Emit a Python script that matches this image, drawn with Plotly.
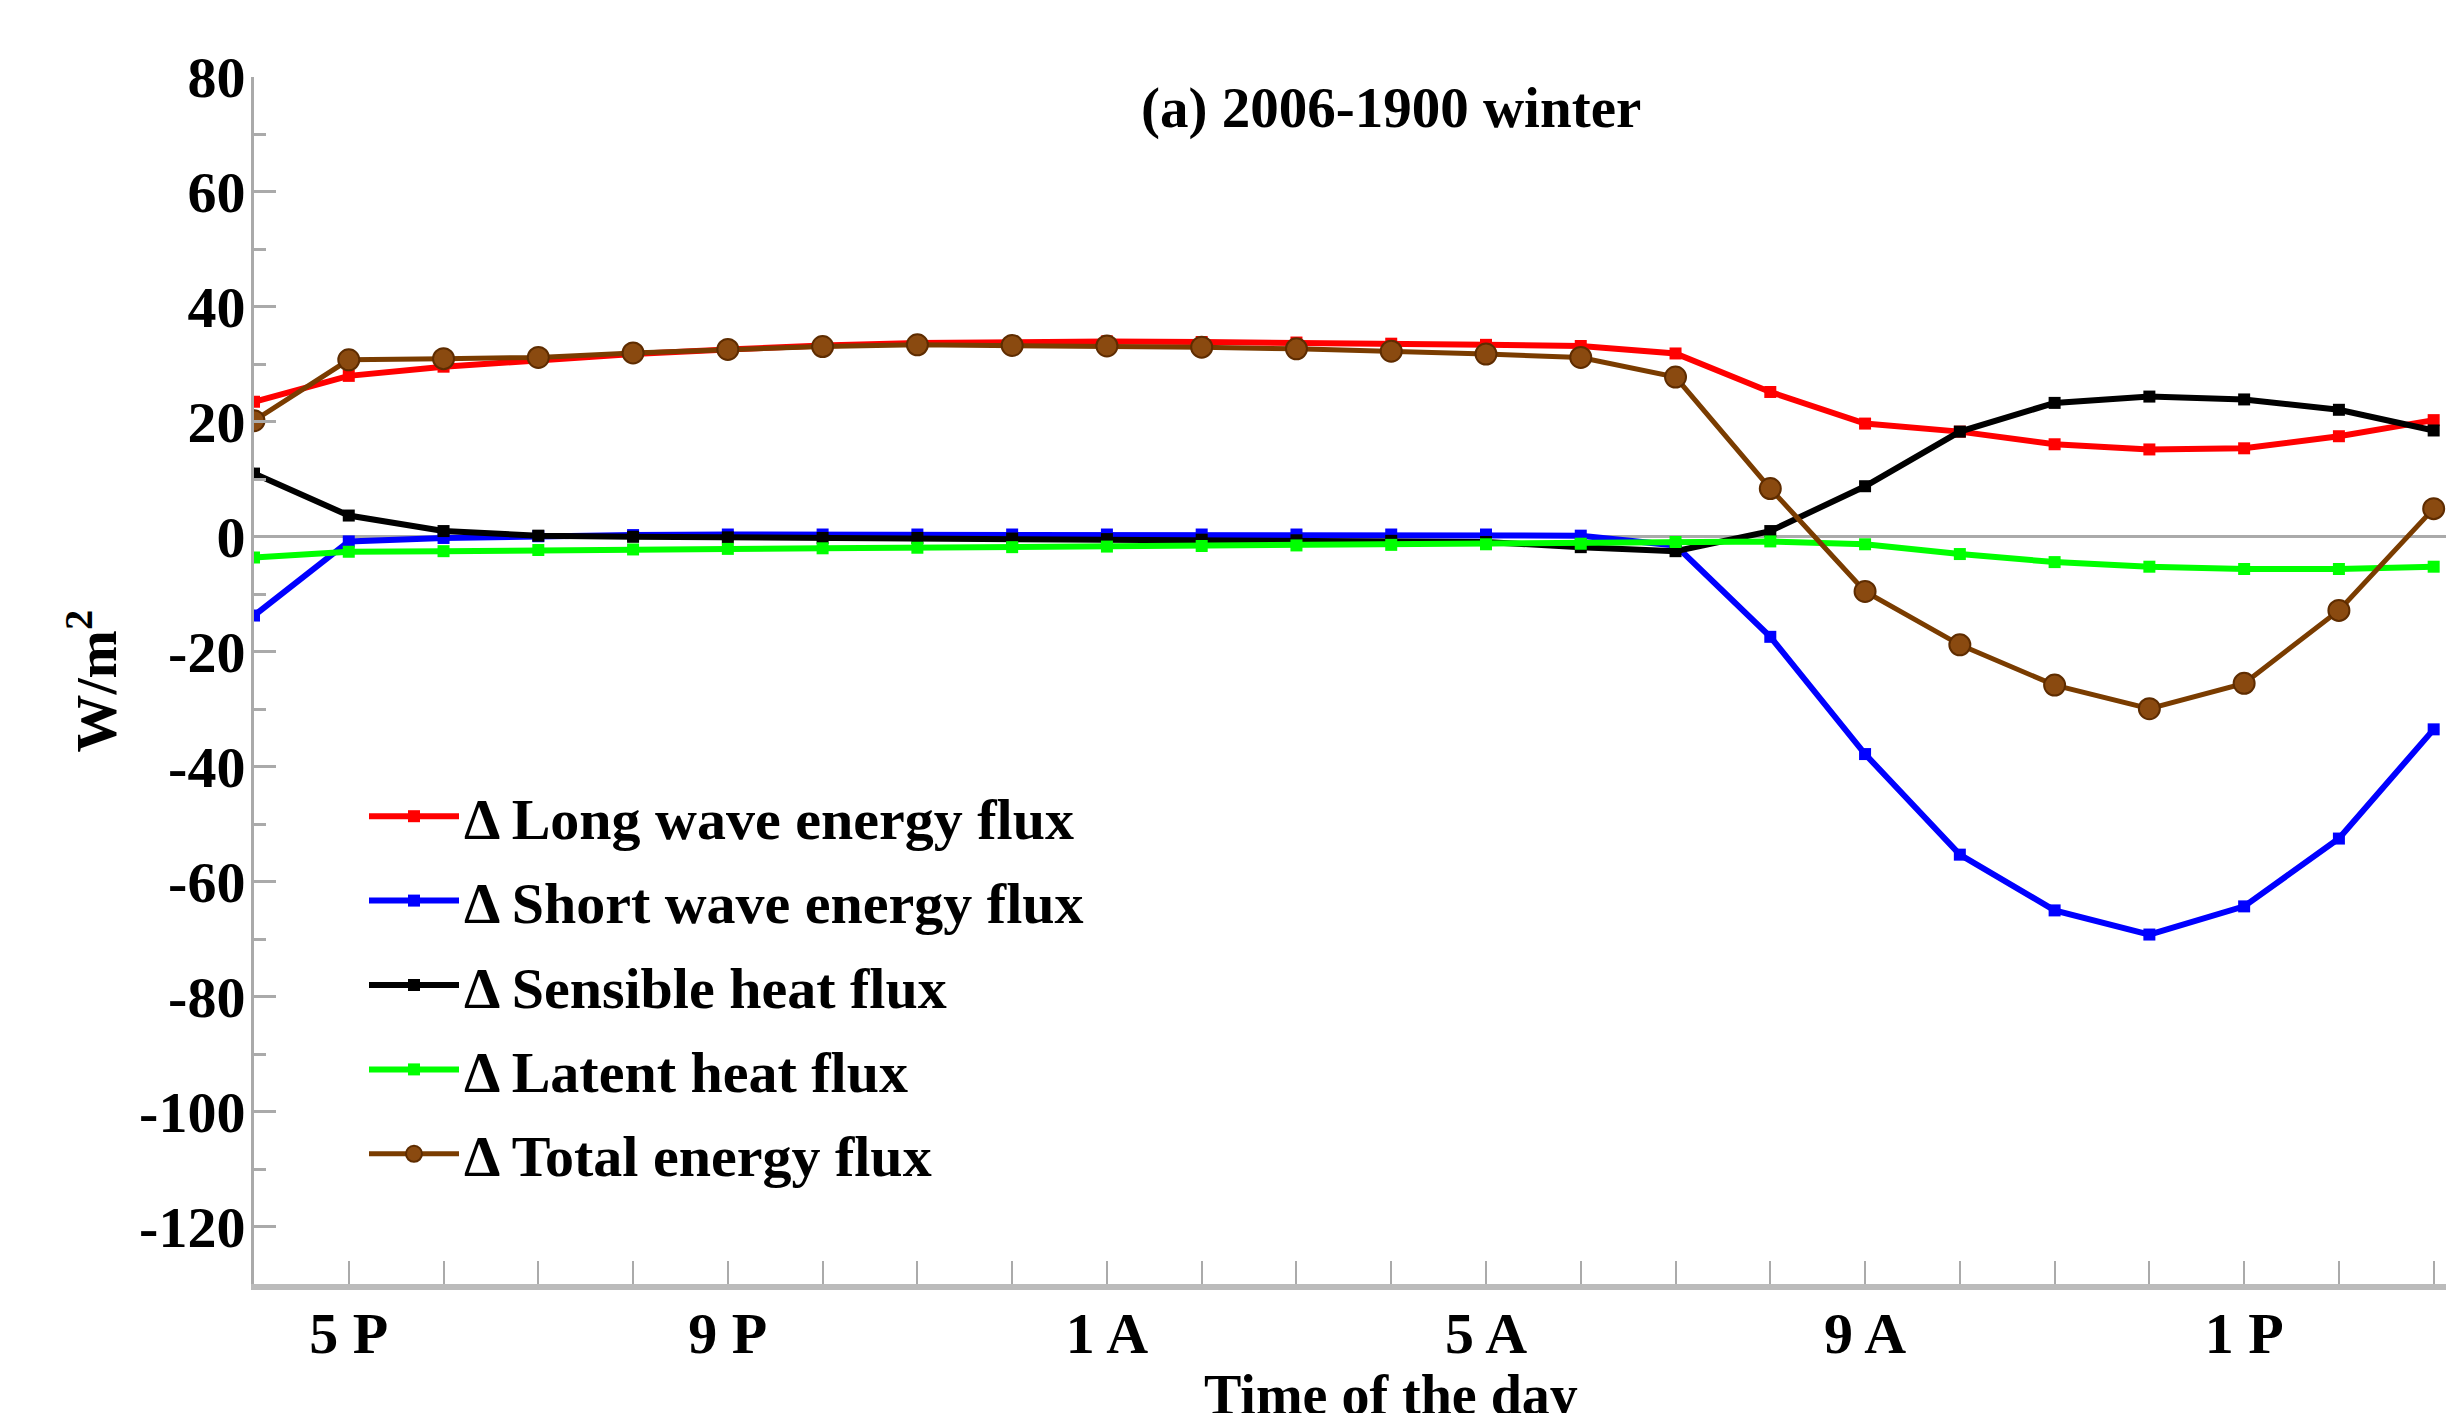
import plotly.graph_objects as go

# hour of day (16 = 4 PM, continuing past midnight up to 39 = 3 PM next day)
hours = list(range(16, 40))
tick_hours = [17, 21, 25, 29, 33, 37]
tick_labels = ["5 P", "9 P", "1 A", "5 A", "9 A", "1 P"]
y_ticks = [-120, -100, -80, -60, -40, -20, 0, 20, 40, 60, 80]

long_wave = [23.5, 28.0, 29.6, 30.8, 31.8, 32.6, 33.3, 33.7, 33.9, 34.0, 33.9, 33.8,
             33.6, 33.4, 33.2, 31.9, 25.2, 19.7, 18.3, 16.1, 15.2, 15.4, 17.5, 20.3]
short_wave = [-13.7, -0.8, -0.2, 0.1, 0.3, 0.4, 0.4, 0.4, 0.4, 0.4, 0.4, 0.4,
              0.4, 0.4, 0.2, -1.5, -17.4, -37.8, -55.3, -65.0, -69.2, -64.3, -52.5, -33.5]
sensible = [11.0, 3.7, 1.0, 0.2, 0.0, -0.1, -0.2, -0.2, -0.3, -0.4, -0.5, -0.6,
            -0.7, -0.9, -1.8, -2.5, 1.0, 8.8, 18.3, 23.3, 24.4, 23.9, 22.1, 18.5]
latent = [-3.6, -2.6, -2.5, -2.3, -2.2, -2.1, -2.0, -1.9, -1.8, -1.7, -1.6, -1.5,
          -1.4, -1.3, -1.2, -0.9, -0.8, -1.3, -3.0, -4.4, -5.2, -5.6, -5.6, -5.2]
total = [20.2, 30.8, 31.0, 31.2, 32.0, 32.6, 33.1, 33.4, 33.3, 33.2, 33.0, 32.7,
         32.3, 31.8, 31.2, 27.8, 8.4, -9.5, -18.8, -25.8, -29.9, -25.5, -12.8, 4.9]

series_names = ["Δ Long wave energy flux", "Δ Short wave energy flux",
                "Δ Sensible heat flux", "Δ Latent heat flux", "Δ Total energy flux"]

FONT = "Liberation Serif, Times New Roman, serif"
AX = "#aaaaaa"

fig = go.Figure()
specs = [
    (long_wave, "#ff0000"),
    (short_wave, "#0000ff"),
    (sensible, "#000000"),
    (latent, "#00ff00"),
]
for i, (vals, col) in enumerate(specs):
    fig.add_trace(go.Scatter(
        x=hours, y=vals, mode="lines+markers", name=series_names[i],
        legendgroup=str(i),
        line=dict(color=col, width=6),
        marker=dict(symbol="square", size=12, color=col),
    ))
fig.add_trace(go.Scatter(
    x=hours, y=total, mode="lines+markers", name=series_names[4],
    legendgroup="4",
    line=dict(color="#7a3c00", width=5),
    marker=dict(symbol="circle", size=21, color="#8a4a10",
                line=dict(color="#5e2c00", width=2)),
))

fig.update_layout(
    template="none",
    width=2446, height=1413,
    margin=dict(l=254, r=0, t=77, b=129, autoexpand=False),
    paper_bgcolor="white", plot_bgcolor="white",
    font=dict(family=FONT, size=58, color="black", weight="bold"),
    showlegend=True,
    legend=dict(
        x=(364 - 254) / 2192, y=(1284 - 772) / 1207,
        xanchor="left", yanchor="top",
        bgcolor="rgba(0,0,0,0)", borderwidth=0,
        font=dict(family=FONT, size=58, color="black", weight="bold"),
        itemwidth=90, tracegroupgap=6,
    ),
    xaxis=dict(
        range=[16, 39.13], automargin=False,
        tickmode="array", tickvals=tick_hours, ticktext=tick_labels,
        ticks="inside", ticklen=23, tickwidth=2, tickcolor=AX,
        ticklabelstandoff=-7,
        minor=dict(dtick=1, tick0=16, ticks="inside", ticklen=23, tickwidth=2, tickcolor=AX),
        showline=True, linecolor="#bbbbbb", linewidth=6,
        showgrid=False, zeroline=False,
        tickfont=dict(family=FONT, size=58, color="black", weight="bold"),
    ),
    yaxis=dict(
        range=[-130, 80], automargin=False,
        tickmode="array", tickvals=y_ticks, ticktext=[str(v) for v in y_ticks],
        ticks="inside", ticklen=22, tickwidth=3, tickcolor=AX,
        ticklabelstandoff=-6,
        minor=dict(dtick=10, tick0=0, ticks="inside", ticklen=12, tickwidth=3, tickcolor=AX),
        showline=True, linecolor=AX, linewidth=3,
        showgrid=False,
        zeroline=True, zerolinecolor=AX, zerolinewidth=3,
        tickfont=dict(family=FONT, size=58, color="black", weight="bold"),
    ),
    annotations=[
        dict(text="(a) 2006-1900 winter", xref="x", x=28, yref="paper",
             y=(1284 - 108) / 1207, xanchor="center", yanchor="middle",
             showarrow=False, font=dict(family=FONT, size=57, color="black", weight="bold")),
        dict(text="Time of the day", xref="x", x=28.0, yref="paper",
             y=-(1362 - 1284) / 1207, xanchor="center", yanchor="top",
             showarrow=False, font=dict(family=FONT, size=56, color="black", weight="bold")),
        dict(text="W/m<sup>2</sup>", xref="paper", x=-(254 - 92) / 2192, yref="paper",
             y=0.5, xanchor="center", yanchor="middle", textangle=-90,
             showarrow=False, font=dict(family=FONT, size=58, color="black", weight="bold")),
    ],
)

fig.write_html("out.html")
